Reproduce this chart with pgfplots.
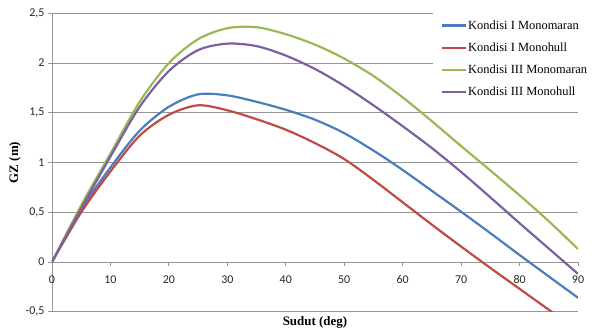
\documentclass[border=0pt]{standalone}
\usepackage{fontspec}
\setmainfont{Liberation Serif}
\newfontfamily\carlito{Carlito}
\usepackage{pgfplots}
\pgfplotsset{compat=1.18}
\definecolor{cblue}{RGB}{74,126,187}
\definecolor{cred}{RGB}{190,75,72}
\definecolor{cgreen}{RGB}{152,185,84}
\definecolor{cpurple}{RGB}{125,96,160}
\definecolor{axgray}{RGB}{150,150,150}
\begin{document}
\begin{tikzpicture}
\begin{axis}[
  scale only axis, width=526bp, height=298.4bp,
  xmin=0, xmax=90, ymin=-0.5, ymax=2.5,
  axis y line=left, axis x line=middle,
  axis line style={-, draw=axgray, line width=0.8pt},
  hide obscured x ticks=false, hide obscured y ticks=false,
  xtick={0,10,...,90}, ytick={-0.5,0,0.5,1,1.5,2,2.5},
  ymajorgrids, grid style={axgray, line width=0.8pt},
  tick style={axgray, line width=0.8pt},
  major tick length=4bp,
  tick align=outside,
  /pgf/number format/use comma,
  /pgf/number format/assume math mode=true,
  ticklabel style={font=\carlito\fontsize{12}{12}\selectfont, text=black!85},
  xticklabel style={yshift=-6bp},
  every axis x label/.style={at={(axis description cs:0.5,0)}, anchor=north, yshift=-1bp, font=\bfseries\fontsize{13}{13}\selectfont},
  every axis y label/.style={at={(axis description cs:0,0.5)}, rotate=90, anchor=center, yshift=37bp, font=\bfseries\fontsize{13}{13}\selectfont},
  xlabel={Sudut (deg)}, ylabel={GZ (m)},
  legend style={draw=none, fill=white, at={(axis description cs:0.724,1.01)}, anchor=north west,
    font=\fontsize{12.5}{14}\selectfont, inner xsep=8bp, inner ysep=8bp, row sep=8bp,
    nodes={inner xsep=1bp}},
  legend cell align=left,
  legend image code/.code={\draw[#1] (0bp,0bp) -- (24bp,0bp);},
  every axis plot/.append style={line width=2.2pt, smooth},
]
\coordinate (ll) at (rel axis cs:0,0);
\coordinate (ur) at (rel axis cs:1,1);
\addplot[cblue] coordinates {(0,0) (5,0.53) (10,0.95) (15,1.32) (20,1.56) (25,1.685) (30,1.675) (35,1.61) (40,1.53) (45,1.43) (50,1.295) (55,1.12) (60,0.925) (65,0.715) (70,0.505) (75,0.29) (80,0.07) (85,-0.145) (90,-0.36)};
\addlegendentry{Kondisi I Monomaran}
\addplot[cred] coordinates {(0,0) (5,0.50) (10,0.91) (15,1.27) (20,1.48) (25,1.575) (30,1.525) (35,1.435) (40,1.33) (45,1.195) (50,1.035) (55,0.825) (60,0.60) (65,0.375) (70,0.155) (75,-0.06) (80,-0.27) (85,-0.48) (90,-0.69)};
\addlegendentry{Kondisi I Monohull}
\addplot[cgreen] coordinates {(0,0) (5,0.57) (10,1.09) (15,1.61) (20,2.00) (25,2.24) (30,2.35) (35,2.36) (40,2.29) (45,2.185) (50,2.045) (55,1.87) (60,1.655) (65,1.415) (70,1.165) (75,0.92) (80,0.67) (85,0.41) (90,0.13)};
\addlegendentry{Kondisi III Monomaran}
\addplot[cpurple] coordinates {(0,0) (5,0.54) (10,1.06) (15,1.56) (20,1.92) (25,2.13) (30,2.195) (35,2.17) (40,2.075) (45,1.94) (50,1.77) (55,1.575) (60,1.365) (65,1.145) (70,0.905) (75,0.65) (80,0.39) (85,0.135) (90,-0.12)};
\addlegendentry{Kondisi III Monohull}
\end{axis}
\pgfresetboundingbox
\path ([shift={(-52bp,-17.3bp)}]ll) rectangle ([shift={(17bp,13.3bp)}]ur);
\end{tikzpicture}
\end{document}
